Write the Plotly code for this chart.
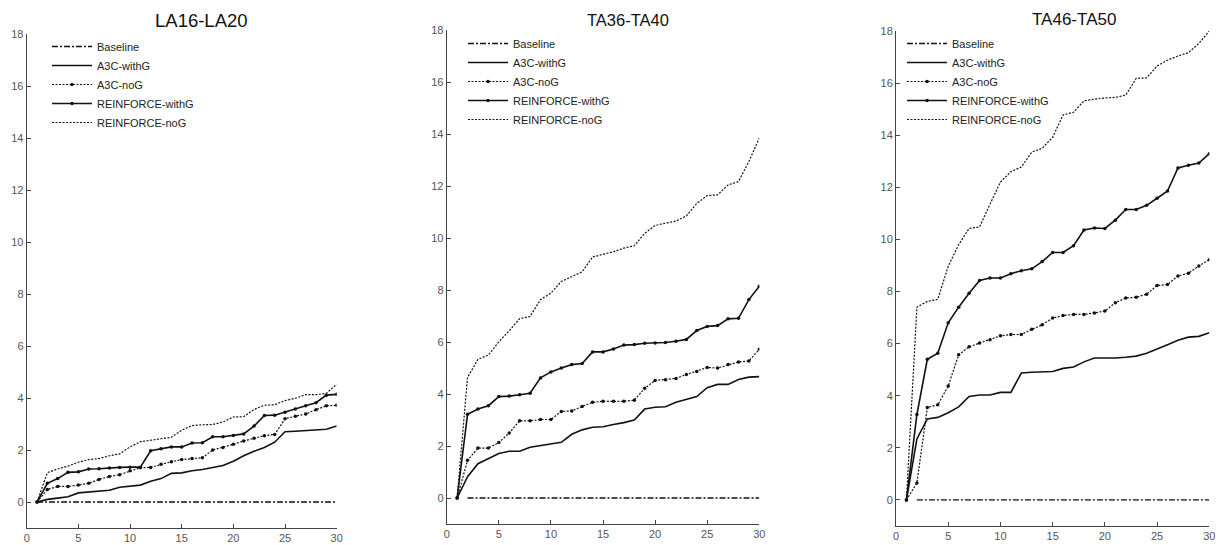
import plotly.graph_objects as go

x = list(range(1, 31))
x_base1 = list(range(1, 31))
x_base23 = list(range(2, 31))

titles = ["LA16-LA20", "TA36-TA40", "TA46-TA50"]
series_names = ["Baseline", "A3C-withG", "A3C-noG", "REINFORCE-withG", "REINFORCE-noG"]

# Panel 1: LA16-LA20
la_a3c_withg = [0, 0.1, 0.15, 0.2, 0.35, 0.38, 0.4, 0.45, 0.57, 0.6, 0.65, 0.8, 0.9, 1.1, 1.12,
                1.2, 1.25, 1.33, 1.4, 1.57, 1.78, 1.95, 2.1, 2.3, 2.7, 2.72, 2.75, 2.78, 2.8, 2.92]
la_a3c_nog = [0, 0.48, 0.6, 0.6, 0.65, 0.72, 0.87, 0.98, 1.05, 1.2, 1.32, 1.33, 1.45, 1.55, 1.63,
              1.67, 1.7, 2.0, 2.1, 2.22, 2.35, 2.45, 2.55, 2.6, 3.2, 3.3, 3.38, 3.55, 3.7, 3.72]
la_rf_withg = [0, 0.72, 0.9, 1.14, 1.16, 1.27, 1.28, 1.31, 1.33, 1.34, 1.34, 1.97, 2.05, 2.12, 2.12,
               2.27, 2.28, 2.51, 2.51, 2.56, 2.62, 2.92, 3.33, 3.34, 3.45, 3.58, 3.7, 3.82, 4.11, 4.14]
la_rf_nog = [0, 1.13, 1.27, 1.38, 1.53, 1.63, 1.67, 1.78, 1.85, 2.12, 2.32, 2.38, 2.44, 2.49, 2.76,
             2.94, 2.97, 2.98, 3.08, 3.27, 3.28, 3.56, 3.72, 3.74, 3.9, 3.99, 4.13, 4.13, 4.18, 4.53]

# Panel 2: TA36-TA40
ta36_a3c_withg = [0, 0.82, 1.32, 1.52, 1.71, 1.8, 1.8, 1.95, 2.01, 2.07, 2.14, 2.45, 2.62, 2.72, 2.74,
                  2.83, 2.9, 3.0, 3.42, 3.49, 3.51, 3.68, 3.79, 3.9, 4.24, 4.37, 4.37, 4.56, 4.65, 4.67]
ta36_a3c_nog = [0, 1.45, 1.92, 1.92, 2.13, 2.5, 2.97, 2.97, 3.02, 3.02, 3.33, 3.35, 3.52, 3.68, 3.72,
                3.72, 3.72, 3.76, 4.22, 4.52, 4.55, 4.6, 4.75, 4.87, 5.02, 5.0, 5.13, 5.23, 5.27, 5.72]
ta36_rf_withg = [0, 3.22, 3.42, 3.55, 3.9, 3.92, 3.97, 4.03, 4.62, 4.85, 5.0, 5.13, 5.17, 5.62, 5.62,
                 5.73, 5.88, 5.9, 5.95, 5.96, 5.98, 6.03, 6.1, 6.44, 6.6, 6.63, 6.89, 6.91, 7.63, 8.14]
ta36_rf_nog = [0, 4.64, 5.33, 5.5, 6.01, 6.43, 6.9, 6.98, 7.63, 7.88, 8.33, 8.5, 8.7, 9.27, 9.38,
               9.47, 9.61, 9.7, 10.18, 10.48, 10.57, 10.65, 10.85, 11.33, 11.63, 11.66, 12.04, 12.17, 12.94, 13.85]

# Panel 3: TA46-TA50
ta46_a3c_withg = [0, 2.34, 3.11, 3.17, 3.35, 3.57, 3.97, 4.03, 4.03, 4.13, 4.13, 4.87, 4.9, 4.92, 4.93,
                  5.05, 5.1, 5.3, 5.45, 5.45, 5.45, 5.48, 5.52, 5.63, 5.78, 5.96, 6.13, 6.25, 6.28, 6.42]
ta46_a3c_nog = [0, 0.65, 3.55, 3.65, 4.37, 5.57, 5.88, 6.02, 6.15, 6.3, 6.35, 6.35, 6.55, 6.72, 6.98,
                7.08, 7.12, 7.12, 7.18, 7.25, 7.57, 7.75, 7.78, 7.9, 8.23, 8.27, 8.6, 8.7, 8.98, 9.22]
ta46_rf_withg = [0, 3.28, 5.4, 5.63, 6.8, 7.4, 7.93, 8.42, 8.52, 8.52, 8.68, 8.8, 8.87, 9.15, 9.5,
                 9.5, 9.76, 10.36, 10.44, 10.42, 10.74, 11.15, 11.15, 11.31, 11.58, 11.86, 12.74, 12.85, 12.93, 13.29]
ta46_rf_nog = [0, 7.4, 7.62, 7.7, 8.97, 9.8, 10.42, 10.48, 11.35, 12.2, 12.6, 12.78, 13.35, 13.5, 13.92,
               14.78, 14.88, 15.32, 15.38, 15.43, 15.45, 15.54, 16.18, 16.2, 16.66, 16.88, 17.04, 17.17, 17.52, 18.0]

panels = [
    (x_base1, la_a3c_withg, la_a3c_nog, la_rf_withg, la_rf_nog),
    (x_base23, ta36_a3c_withg, ta36_a3c_nog, ta36_rf_withg, ta36_rf_nog),
    (x_base23, ta46_a3c_withg, ta46_a3c_nog, ta46_rf_withg, ta46_rf_nog),
]

W, H = 1220, 545
xdom_px = [(26.7, 336.7), (446.7, 759.3), (896.0, 1209.3)]
ytop_px = [34, 30, 31]
ybot_px = [528, 524, 526]
legend_px = [(47, 32), (463, 29), (902, 29)]
title_pos = [(201.5, 20.5, 18.5), (627.5, 19.5, 16.5), (1073.5, 19, 17)]

FONT = "Liberation Sans"
INK = "#111111"

fig = go.Figure()
styles = [
    dict(line=dict(color=INK, width=1.3, dash="6px,2px,2px,2px"), mode="lines"),
    dict(line=dict(color=INK, width=1.6, dash="solid"), mode="lines"),
    dict(line=dict(color=INK, width=1.2, dash="2px,1.5px"), mode="lines+markers",
         marker=dict(size=3.5, color=INK, symbol="circle")),
    dict(line=dict(color=INK, width=1.6, dash="solid"), mode="lines+markers",
         marker=dict(size=3.5, color=INK, symbol="circle")),
    dict(line=dict(color=INK, width=1.2, dash="2px,1.5px"), mode="lines"),
]

layout = dict(
    width=W, height=H,
    margin=dict(l=0, r=0, t=0, b=0, pad=0, autoexpand=False),
    paper_bgcolor="white", plot_bgcolor="white",
    font=dict(family=FONT, size=11, color="#222222"),
    annotations=[],
)

for i, (xb, a_w, a_n, r_w, r_n) in enumerate(panels):
    k = "" if i == 0 else str(i + 1)
    xa, ya = "x" + k, "y" + k
    leg = "legend" + k
    ys = [[0] * len(xb), a_w, a_n, r_w, r_n]
    xs = [xb, x, x, x, x]
    for j in range(5):
        fig.add_trace(go.Scatter(x=xs[j], y=ys[j], name=series_names[j], xaxis=xa, yaxis=ya,
                                 legend=leg, showlegend=True, **styles[j]))
    x0, x1 = xdom_px[i]
    layout["xaxis" + k] = dict(
        domain=[x0 / W, x1 / W], range=[0, 30], anchor=ya, automargin=False,
        tickvals=[0, 5, 10, 15, 20, 25, 30], ticks="inside", ticklen=4, tickcolor="#444",
        showline=True, linecolor="#444", linewidth=1, showgrid=False, zeroline=False,
        tickfont=dict(family=FONT, size=11, color="#555555"),
    )
    layout["yaxis" + k] = dict(
        domain=[1 - ybot_px[i] / H, 1 - ytop_px[i] / H], range=[-1, 18], anchor=xa, automargin=False,
        tickvals=list(range(0, 19, 2)), ticks="inside", ticklen=4, tickcolor="#444",
        showline=True, linecolor="#444", linewidth=1, showgrid=False, zeroline=False,
        tickfont=dict(family=FONT, size=11, color="#555555"),
    )
    lx, ly = legend_px[i]
    layout[leg] = dict(
        x=lx / W, y=1 - ly / H, xanchor="left", yanchor="top",
        bgcolor="rgba(0,0,0,0)", borderwidth=0,
        font=dict(family=FONT, size=11, color="#222222"),
        itemwidth=40, tracegroupgap=0,
    )
    tx, ty, ts = title_pos[i]
    layout["annotations"].append(dict(
        text=titles[i], x=tx / W, y=1 - ty / H, xref="paper", yref="paper",
        xanchor="center", yanchor="middle", showarrow=False,
        font=dict(family=FONT, size=ts, color="#111111"),
    ))

fig.update_layout(**layout)
fig.write_html(
    "out.html",
    config={"displayModeBar": False},
    post_script="document.body.style.margin='0';document.body.style.overflow='hidden';",
)
